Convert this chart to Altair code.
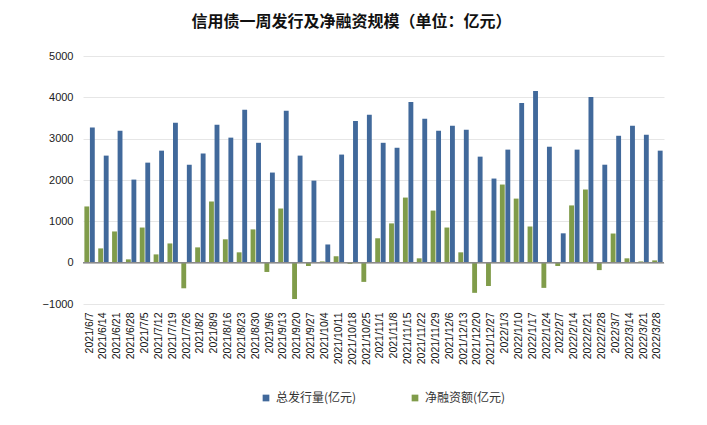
import altair as alt
import pandas as pd

dates = ["2021/6/7", "2021/6/14", "2021/6/21", "2021/6/28", "2021/7/5", "2021/7/12", "2021/7/19",
         "2021/7/26", "2021/8/2", "2021/8/9", "2021/8/16", "2021/8/23", "2021/8/30", "2021/9/6",
         "2021/9/13", "2021/9/20", "2021/9/27", "2021/10/4", "2021/10/11", "2021/10/18", "2021/10/25",
         "2021/11/1", "2021/11/8", "2021/11/15", "2021/11/22", "2021/11/29", "2021/12/6", "2021/12/13",
         "2021/12/20", "2021/12/27", "2022/1/3", "2022/1/10", "2022/1/17", "2022/1/24", "2022/2/7",
         "2022/2/14", "2022/2/21", "2022/2/28", "2022/3/7", "2022/3/14", "2022/3/21", "2022/3/28"]

total = [3270, 2590, 3190, 2010, 2420, 2710, 3385, 2370, 2640, 3335, 3025, 3700, 2900, 2180,
         3675, 2590, 1985, 440, 2615, 3430, 3580, 2900, 2780, 3890, 3480, 3190, 3310, 3215,
         2565, 2035, 2735, 3865, 4155, 2805, 710, 2735, 4010, 2370, 3070, 3310, 3095, 2710]

net = [1360, 345, 755, 80, 850, 200, 465, -620, 370, 1480, 565, 250, 805, -225,
       1310, -880, -80, 30, 155, -30, -465, 590, 950, 1575, 105, 1260, 850, 250,
       -730, -565, 1890, 1550, 875, -610, -80, 1385, 1770, -180, 705, 105, 30, 55]

S_TOTAL = "总发行量(亿元)"
S_NET = "净融资额(亿元)"
BLUE = "#41699B"
GREEN = "#809C4A"

rows = []
for d, t, n in zip(dates, total, net):
    rows.append({"date": d, "series": S_NET, "value": n})
    rows.append({"date": d, "series": S_TOTAL, "value": t})
df = pd.DataFrame(rows)

bars = alt.Chart(df).mark_bar().encode(
    x=alt.X("date:N", sort=dates,
            scale=alt.Scale(paddingInner=0.25, paddingOuter=0.1),
            axis=alt.Axis(title=None, labelAngle=270, labelAlign="right", labelBaseline="middle",
                          labelFont="Liberation Sans", labelFontSize=10.5, labelColor="#111",
                          labelPadding=8, ticks=False, domain=False, labelOverlap=False)),
    xOffset=alt.XOffset("series:N", sort=[S_NET, S_TOTAL], scale=alt.Scale(paddingInner=0.12)),
    y=alt.Y("value:Q", scale=alt.Scale(domain=[-1000, 5000], nice=False),
            axis=alt.Axis(title=None, values=[-1000, 0, 1000, 2000, 3000, 4000, 5000],
                          format="d", domain=False, ticks=False, labelPadding=10,
                          labelFont="Liberation Sans", labelFontSize=11, labelColor="#222",
                          gridColor="#E6E6E6", gridWidth=1)),
    color=alt.Color("series:N",
                    scale=alt.Scale(domain=[S_TOTAL, S_NET], range=[BLUE, GREEN]),
                    legend=alt.Legend(title=None, orient="none", legendX=177, legendY=336,
                                      direction="horizontal", symbolType="square", symbolSize=45,
                                      labelFont="Noto Sans CJK SC", labelFontSize=12,
                                      labelColor="#333", columnPadding=52, labelOffset=4)),
)

zero = alt.Chart(pd.DataFrame({"z": [0]})).mark_rule(color="#8A8A8A", strokeWidth=1.5).encode(
    y="z:Q"
)

chart = alt.layer(bars, zero).properties(
    width=581,
    height=248,
    title=alt.TitleParams("信用债一周发行及净融资规模（单位：亿元）", font="Noto Sans CJK SC",
                          fontSize=16, fontWeight="bold", color="#111", anchor="middle",
                          dx=-22, offset=20),
    padding={"left": 75, "top": 48, "right": 35, "bottom": 113},
    autosize="none",
).configure_view(stroke=None)

chart.save("out.html", embed_options={"renderer": "svg", "actions": False})
